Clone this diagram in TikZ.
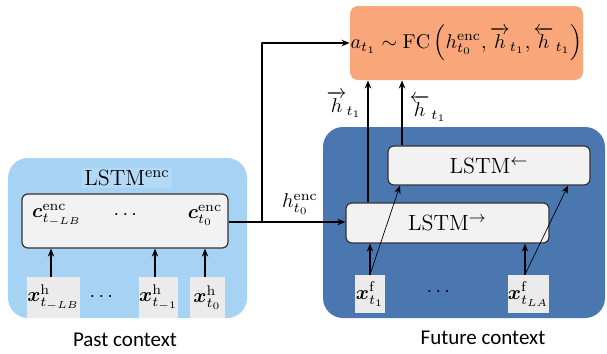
\documentclass[tikz,border=0pt]{standalone}
\usepackage{amsmath,amssymb}
\usepackage{fontspec}
\newfontfamily\ctxfont{Carlito}
\usepackage{xcolor}
\usepackage{tikz}
\usetikzlibrary{arrows.meta,calc}
\definecolor{pastblue}{HTML}{A6D2F4}
\definecolor{futblue}{HTML}{4A77B0}
\definecolor{fcorange}{HTML}{F8A67A}
\definecolor{boxgray}{HTML}{F2F2F2}
\definecolor{inpgray}{HTML}{EBEBEB}

\begin{document}
\begin{tikzpicture}[x=0.5pt,y=0.5pt,>={Stealth[length=4pt,width=3.2pt]},line join=round,
  cellbox/.style={draw=black!80,fill=boxgray,rounded corners=3pt,line width=0.6pt,inner sep=0pt,font=\fontsize{11}{13}\selectfont},
  inbox/.style={fill=inpgray,inner sep=0pt},
  lbl/.style={inner sep=0.5pt},
  link/.style={->,line width=0.75pt},
  thinlink/.style={->,line width=0.35pt},
  ctx/.style={font=\ctxfont\fontsize{10.5}{12}\selectfont}]
  \useasboundingbox (0,0) rectangle (607,-354);
  \fill[pastblue,rounded corners=10pt] (8,-158) rectangle (247,-318);
  \fill[futblue,rounded corners=10pt] (323,-127) rectangle (605,-318);
  \node[fill=pastblue!85!white,inner sep=1pt,font=\fontsize{11}{13}\selectfont] (enclbl) at (127,-178) {LSTM$^{\mathrm{enc}}$};
  \node[cellbox,minimum width=103pt,minimum height=27pt] (enc) at (125,-221) {};
  \node[lbl] (c1) at (57,-215) {$\boldsymbol{c}^{\mathrm{enc}}_{t_{-LB}}$};
  \node[lbl] (cdots) at (127,-215) {$\cdots$};
  \node[lbl] (c0) at (205,-215) {$\boldsymbol{c}^{\mathrm{enc}}_{t_{0}}$};
  \node[inbox,minimum width=23.5pt,minimum height=20.5pt] (xh1) at (53.5,-297.5) {$\boldsymbol{x}^{\mathrm{h}}_{t_{-LB}}$};
  \node[lbl] (xhdots) at (103,-297) {$\cdots$};
  \node[inbox,minimum width=18.5pt,minimum height=20.5pt] (xh2) at (158.5,-297.5) {$\boldsymbol{x}^{\mathrm{h}}_{t_{-1}}$};
  \node[inbox,minimum width=17.5pt,minimum height=20.5pt] (xh3) at (207.5,-297.5) {$\boldsymbol{x}^{\mathrm{h}}_{t_{0}}$};
  \node[ctx] (pastlbl) at (125,-340) {Past context};
  \node[fill=fcorange,rounded corners=4pt,minimum width=116.5pt,minimum height=37pt,inner sep=0pt] (fc) at (466.5,-43)
    {$a_{t_1}\sim\mathrm{FC}\left(h^{\mathrm{enc}}_{t_0},\overrightarrow{h}_{t_1},\overleftarrow{h}_{\mkern2mu t_1}\right)$};
  \node[cellbox,minimum width=101pt,minimum height=19.5pt] (bwd) at (489,-165.5) {LSTM$^{\leftarrow}$};
  \node[cellbox,minimum width=101.5pt,minimum height=20pt] (fwd) at (447.5,-223) {LSTM$^{\rightarrow}$};
  \node[inbox,minimum width=15pt,minimum height=19pt] (xf1) at (370,-294) {$\boldsymbol{x}^{\mathrm{f}}_{t_1}$};
  \node[lbl] (xfdots) at (440,-292) {$\cdots$};
  \node[inbox,minimum width=20.5pt,minimum height=19pt] (xf2) at (528.5,-294) {$\boldsymbol{x}^{\mathrm{f}}_{t_{LA}}$};
  \node[ctx] (futlbl) at (483,-338) {Future context};
  \draw[link] (xh1.north -| 51,0) -- (enc.south -| 51,0);
  \draw[link] (xh2.north -| 155,0) -- (enc.south -| 155,0);
  \draw[link] (xh3.north -| 205,0) -- (enc.south -| 205,0);
  \coordinate (br) at (262,-222);
  \draw[link] (enc.east |- br) -- (fwd.west |- br);
  \draw[link] (br) |- (fc.west);
  \node[lbl] (henc) at (300,-204) {$h^{\mathrm{enc}}_{t_0}$};
  \draw[link] (fwd.north -| 368,0) -- (fc.south -| 368,0);
  \draw[link] (bwd.north -| 402,0) -- (fc.south -| 402,0);
  \node[lbl] (hfwd) at (344,-104) {$\overrightarrow{h}_{t_1}$};
  \node[lbl] (hbwd) at (428,-108) {$\overleftarrow{h}_{\mkern2mu t_1}$};
  \draw[link] (xf1.north) -- (fwd.south -| xf1.north);
  \draw[thinlink] (xf1.north) -- (bwd.south -| 400,0);
  \draw[link] (xf2.north -| 525,0) -- (fwd.south -| 525,0);
  \draw[thinlink] (xf2.north -| 525,0) -- (bwd.south -| 568,0);
\end{tikzpicture}
\end{document}
